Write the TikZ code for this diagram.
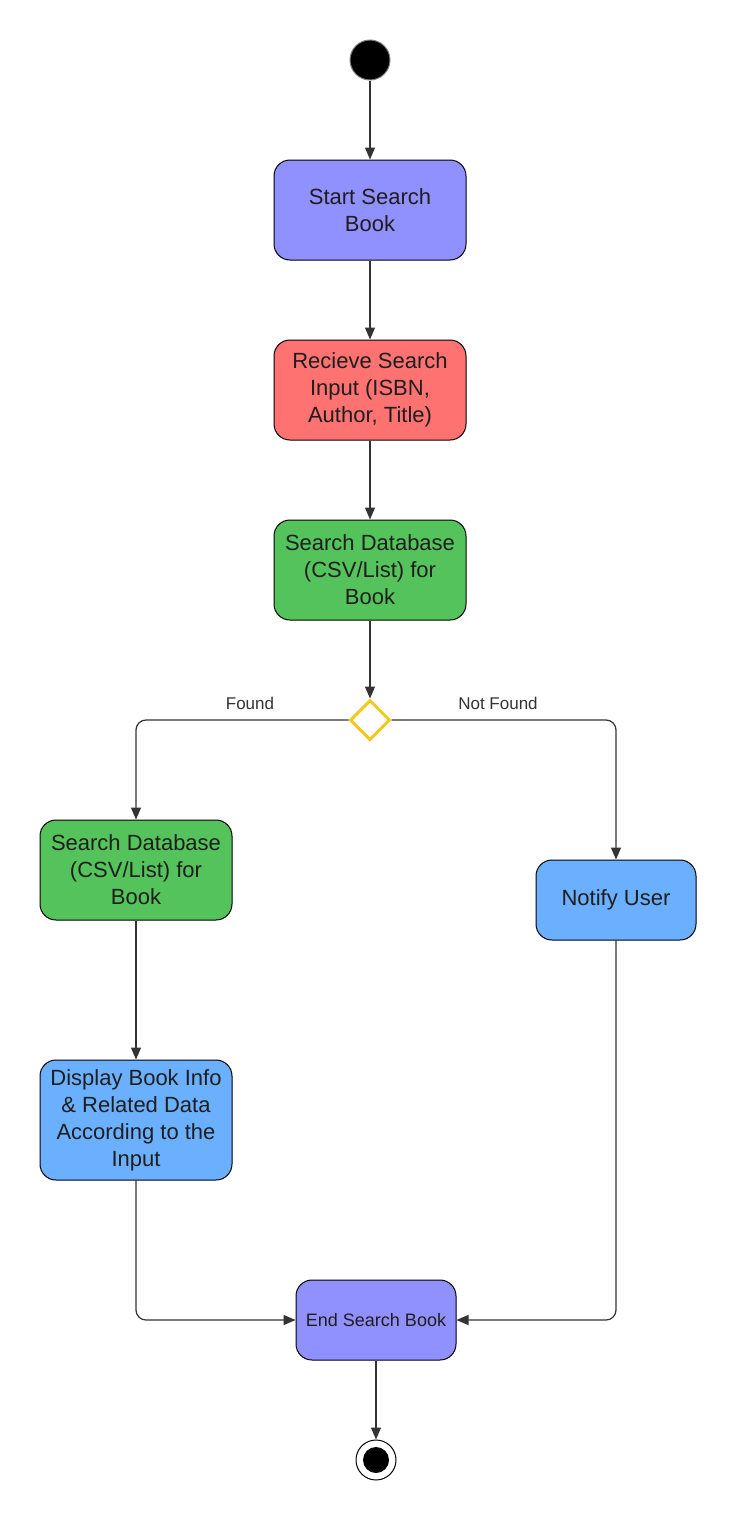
\documentclass[tikz,border=0pt]{standalone}
\usepackage{fontspec}
\setmainfont{Liberation Sans}
\usetikzlibrary{positioning, shapes.geometric, arrows.meta}

\definecolor{actpurple}{HTML}{9090FF}
\definecolor{actred}{HTML}{FF7272}
\definecolor{actgreen}{HTML}{55C35B}
\definecolor{actblue}{HTML}{6AB0FF}
\definecolor{decyellow}{HTML}{F2C81E}
\definecolor{linegray}{HTML}{333333}
\definecolor{textdark}{HTML}{1E1E1E}

\begin{document}
\begin{tikzpicture}[
  x=1pt, y=-1pt,
  >={Triangle[length=12pt,width=10pt]},
  every node/.style={font=\fontsize{22}{27}\selectfont, text=textdark},
  activity/.style={draw=black, line width=1pt, rounded corners=16pt,
                   minimum width=192pt, minimum height=100pt,
                   align=center, inner sep=4pt},
  flow/.style={->, draw=linegray, line width=1.2pt},
  guard/.style={font=\fontsize{17}{20}\selectfont, text=linegray}
]
\useasboundingbox (0,0) rectangle (736,1520);

% ---- INITIAL NODE ----
\node[circle, fill=black, draw=gray, line width=1pt, minimum size=40pt,
      inner sep=0pt] (init) at (370, 60) {};

% ---- MAIN COLUMN ----
\node[activity, fill=actpurple] (start) at (370, 210)
  {Start Search\\Book};
\node[activity, fill=actred] (receive) at (370, 390)
  {Recieve Search\\Input (ISBN,\\Author, Title)};
\node[activity, fill=actgreen] (search) at (370, 570)
  {Search Database\\(CSV/List) for\\Book};

% ---- DECISION ----
\node[diamond, draw=decyellow, line width=3pt, fill=white, aspect=1,
      minimum width=40pt, minimum height=40pt, inner sep=0pt]
  (decide) at (370, 720) {};
\node[guard] (foundlbl) at (250, 703) {Found};
\node[guard] (notfoundlbl) at (498, 703) {Not Found};

% ---- LEFT BRANCH: Found ----
\node[activity, fill=actgreen] (searchb) at (136, 870)
  {Search Database\\(CSV/List) for\\Book};
\node[activity, fill=actblue, minimum height=120pt] (display) at (136, 1120)
  {Display Book Info\\\& Related Data\\According to the\\Input};

% ---- RIGHT BRANCH: Not Found ----
\node[activity, fill=actblue, minimum width=160pt, minimum height=80pt]
  (notify) at (616, 900) {Notify User};

% ---- END ----
\node[activity, fill=actpurple, minimum width=160pt, minimum height=80pt,
      font=\fontsize{18}{20}\selectfont] (endact) at (376, 1320)
  {End Search Book};
\node[circle, draw=black, line width=1pt, fill=white, minimum size=40pt,
      inner sep=0pt] (final) at (376, 1460) {};
\node[circle, fill=black, minimum size=26pt, inner sep=0pt] (finaldot)
  at (final) {};

% ---- FLOWS ----
\draw[flow] (init) -- (start);
\draw[flow] (start) -- (receive);
\draw[flow] (receive) -- (search);
\draw[flow] (search) -- (decide);
\draw[flow, rounded corners=10pt] (decide.west) -| (searchb.north);
\draw[flow, rounded corners=10pt] (decide.east) -| (notify.north);
\draw[flow] (searchb) -- (display);
\draw[flow, rounded corners=10pt] (display.south) |- (endact.west);
\draw[flow, rounded corners=10pt] (notify.south) |- (endact.east);
\draw[flow] (endact) -- (final);

\end{tikzpicture}
\end{document}
